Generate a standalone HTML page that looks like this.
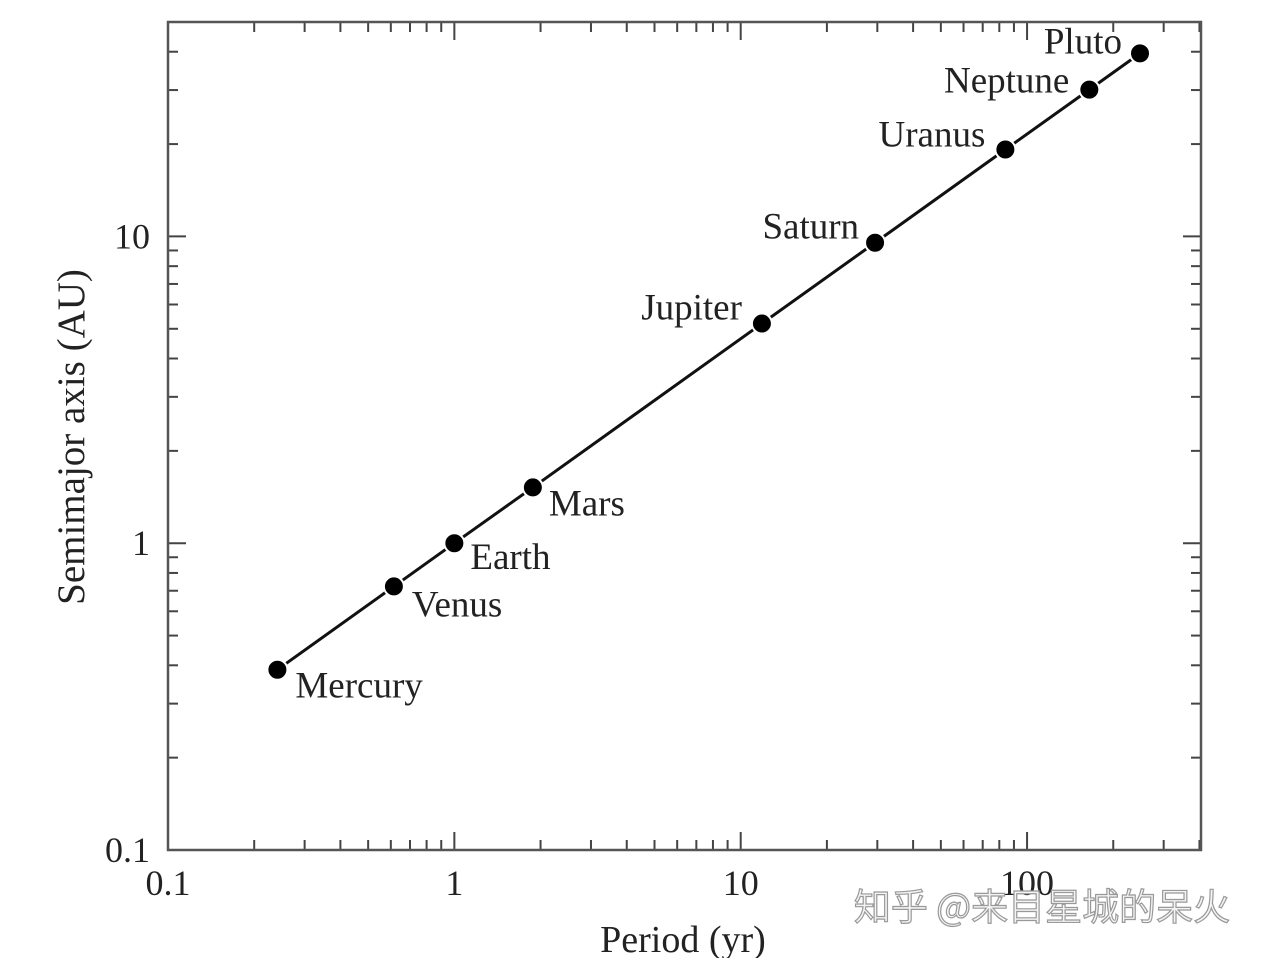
<!DOCTYPE html>
<html><head><meta charset="utf-8"><style>
body{margin:0;background:#fff;}
svg text{font-family:"Liberation Serif","Noto Serif CJK SC",serif;fill:#222;}
</style></head><body>
<svg id="chart" width="1267" height="958" viewBox="0 0 1267 958" xmlns="http://www.w3.org/2000/svg">
<g id="ticks"></g>
<g id="series"></g>
<rect x="168" y="22" width="1033" height="828" fill="none" stroke="#555" stroke-width="2.5"/>
<text x="683" y="952" font-size="38" text-anchor="middle">Period (yr)</text>
<text transform="translate(84,437) rotate(-90)" font-size="39" text-anchor="middle">Semimajor axis (AU)</text>
<text x="1042" y="920" font-size="37" fill="#fff" stroke="#999" stroke-width="1.2" text-anchor="middle" style="font-family:'Noto Sans CJK SC',sans-serif;fill:#f4f4f4">知乎 @来目星城的呆火</text>
</svg>
<script>
const planets=["Mercury","Venus","Earth","Mars","Jupiter","Saturn","Uranus","Neptune","Pluto"];
const periods=[0.241,0.615,1,1.88,11.86,29.46,84,165,248];
const axes=[0.387,0.723,1,1.52,5.2,9.54,19.2,30.1,39.5];
const xTickLabels=["0.1","1","10","100"];
const yTickLabels=["0.1","1","10"];
const NS="http://www.w3.org/2000/svg";
const X0=168,X1=1201,Y0=850,Y1=22;
const xMin=-1,xMax=Math.log10(405),yMin=-1,yMax=Math.log10(50);
function sx(v){return X0+(Math.log10(v)-xMin)/(xMax-xMin)*(X1-X0);}
function sy(v){return Y0-(Math.log10(v)-yMin)/(yMax-yMin)*(Y0-Y1);}
function mk(tag,attrs,parent){const e=document.createElementNS(NS,tag);for(const k in attrs)e.setAttribute(k,attrs[k]);parent.appendChild(e);return e;}
const tg=document.getElementById('ticks');
for(let d=-1;d<=2;d++){for(let m=1;m<10;m++){const v=m*Math.pow(10,d);if(v>405)continue;const x=sx(v);const L=m===1?18:10;
const t1=mk('line',{x1:x,x2:x,y1:Y0,y2:Y0-L,stroke:'#444','stroke-width':2},tg);


const t2=mk('line',{x1:x,x2:x,y1:Y1,y2:Y1+L,stroke:'#444','stroke-width':2},tg);

}}
for(let d=-1;d<=1;d++){for(let m=1;m<10;m++){const v=m*Math.pow(10,d);if(v>50)continue;const y=sy(v);const L=m===1?18:10;
const t1=mk('line',{x1:X0,x2:X0+L,y1:y,y2:y,stroke:'#444','stroke-width':2},tg);


const t2=mk('line',{x1:X1,x2:X1-L,y1:y,y2:y,stroke:'#444','stroke-width':2},tg);

}}
xTickLabels.forEach(s=>{const t=mk('text',{x:sx(parseFloat(s)),y:895,'font-size':36,'text-anchor':'middle'},tg);t.textContent=s;

});
yTickLabels.forEach(s=>{const t=mk('text',{x:150,y:sy(parseFloat(s))+12,'font-size':36,'text-anchor':'end'},tg);t.textContent=s;

});
const sg=document.getElementById('series');
const ln=mk('polyline',{points:periods.map((p,i)=>sx(p)+','+sy(axes[i])).join(' '),fill:'none',stroke:'#111','stroke-width':3},sg);


const lblDx=[18,18,16,16,-20,-16,-20,-20,-18];
const lblDy=[28,30,26,28,-4,-4,-3,3,0];
planets.forEach((n,i)=>{const cx=sx(periods[i]),cy=sy(axes[i]);
const c=mk('circle',{cx:cx,cy:cy,r:10,fill:'#000',stroke:'#fff','stroke-width':2},sg);


const t=mk('text',{x:cx+lblDx[i],y:cy+lblDy[i],'font-size':37,'text-anchor':lblDx[i]<0?'end':'start'},sg);t.textContent=n;

});
</script>
</body></html>
